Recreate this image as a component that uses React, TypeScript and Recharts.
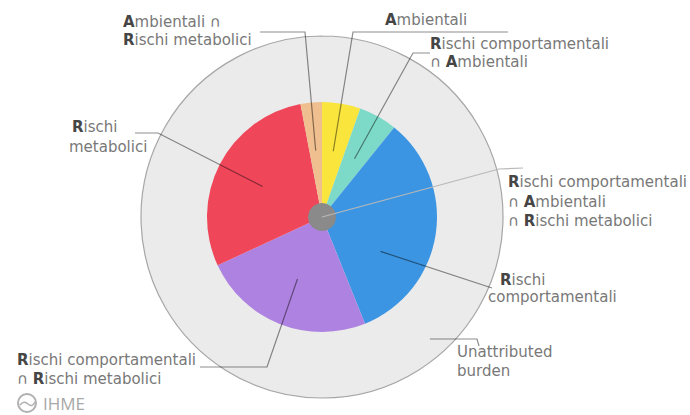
import { PieChart, Pie, Cell } from 'recharts';

// burden shares, clockwise from 12 o'clock
const categories = [
  'Ambientali',
  'Rischi comportamentali ∩ Ambientali',
  'Rischi comportamentali',
  'Rischi comportamentali ∩ Rischi metabolici',
  'Rischi metabolici',
  'Ambientali ∩ Rischi metabolici',
];
const shares = [5.4, 5.4, 33.1, 24.2, 28.9, 3.0];
const sliceColors = ['#f9e53c', '#7edac8', '#3c95e2', '#ae82e0', '#ef465a', '#efbf8f'];

const overlapName = 'Rischi comportamentali ∩ Ambientali ∩ Rischi metabolici';
const overlapShare = [1];
const unattributedName = 'Unattributed burden';
const unattributedShare = [100];

const CX = 322;
const CY = 217;
const PIE_R = 115;
const RING_R = 181;
const DOT_R = 14;
const RAD = Math.PI / 180;

const sliceData = categories.map((name, i) => ({ name, value: shares[i] }));
const dotData = overlapShare.map((value) => ({ name: overlapName, value }));
const ringData = unattributedShare.map((value) => ({ name: unattributedName, value }));

type LabelLayout = {
  shift: number; // degrees clockwise from the slice middle
  startR: number; // fraction of the sector radius
  points: [number, number][]; // offsets from the centre
  text: [number, number];
  lineH: number;
  indent?: number[];
  lines: string[]; // ^X marks a bold initial
  stroke?: string;
};

const LAYOUT: Record<string, LabelLayout> = {
  'Ambientali': {
    shift: 0, startR: 0.58, points: [[31, -185], [186, -185]],
    text: [63, -192], lineH: 18, lines: ['^Ambientali'],
  },
  'Rischi comportamentali ∩ Ambientali': {
    shift: 0, startR: 0.58, points: [[91, -164], [108, -164]],
    text: [108, -168], lineH: 18, lines: ['^Rischi comportamentali', '∩ ^Ambientali'],
  },
  'Rischi comportamentali': {
    shift: 22, startR: 0.59, points: [[170, 71]],
    text: [178, 68], lineH: 17, indent: [0, -12], lines: ['^Rischi', 'comportamentali'],
  },
  'Rischi comportamentali ∩ Rischi metabolici': {
    shift: 0, startR: 0.58, points: [[-55, 150], [-122, 150]],
    text: [-305, 148], lineH: 19, lines: ['^Rischi comportamentali', '∩ ^Rischi metabolici'],
  },
  'Rischi metabolici': {
    shift: 0, startR: 0.58, points: [[-164, -84], [-187, -84]],
    text: [-250, -85], lineH: 20, indent: [0, -3], lines: ['^Rischi', 'metabolici'],
  },
  'Ambientali ∩ Rischi metabolici': {
    shift: 0, startR: 0.58, points: [[-17, -185], [-62, -185]],
    text: [-199, -190], lineH: 18, lines: ['^Ambientali ∩', '^Rischi metabolici'],
  },
  [overlapName]: {
    shift: 0, startR: 0, points: [[177, -48], [201, -49]],
    text: [186, -30], lineH: 19.5, stroke: '#b8b8b8',
    lines: ['^Rischi comportamentali', '∩ ^Ambientali', '∩ ^Rischi metabolici'],
  },
  [unattributedName]: {
    shift: -41.5, startR: 0.9, points: [[155, 122], [157, 129]],
    text: [135, 140], lineH: 19, lines: ['Unattributed', 'burden'],
  },
};

function richLine(line: string) {
  const parts = line.split(/\^(.)/);
  return parts.map((p, i) =>
    i % 2 === 1
      ? <tspan key={i} fontWeight="bold" fill="#454545">{p}</tspan>
      : <tspan key={i}>{p}</tspan>
  );
}

function renderLabel(props: any) {
  const { cx, cy, midAngle, outerRadius, name } = props;
  const lay = LAYOUT[name];
  if (!lay) return null;
  const a = (midAngle - lay.shift) * RAD;
  const r = outerRadius * lay.startR;
  const pts = [[cx + r * Math.cos(a), cy - r * Math.sin(a)], ...lay.points.map(([dx, dy]) => [cx + dx, cy + dy])];
  return (
    <g>
      <polyline
        points={pts.map((p) => p.join(',')).join(' ')}
        fill="none"
        stroke={lay.stroke ?? '#000'}
        strokeOpacity={lay.stroke ? 1 : 0.45}
        strokeWidth={1.2}
      />
      <text fontFamily="DejaVu Sans" fontSize={15} fill="#787878">
        {lay.lines.map((ln, i) => (
          <tspan key={i} x={cx + lay.text[0] + (lay.indent?.[i] ?? 0)} y={cy + lay.text[1] + i * lay.lineH}>
            {richLine(ln)}
          </tspan>
        ))}
      </text>
    </g>
  );
}

// only the outer arc of the full ring gets a border, not the seam back to the centre
const ringArc = 2 * Math.PI * RING_R * (359.999 / 360);

export default function App() {
  return (
    <div style={{ position: 'absolute', left: 0, top: 0, width: 690, height: 415, background: '#fff' }}>
      <PieChart width={690} height={415} margin={{ top: 0, right: 0, bottom: 0, left: 0 }}>
        <Pie
          data={ringData} dataKey="value" nameKey="name" cx={CX} cy={CY}
          outerRadius={RING_R} startAngle={90} endAngle={-270}
          label={renderLabel} labelLine={false} isAnimationActive={false}
        >
          <Cell fill="#ebebeb" stroke="#a6a6a6" strokeWidth={1.2} strokeDasharray={`${ringArc} 2000`} />
        </Pie>
        <Pie
          data={sliceData} dataKey="value" nameKey="name" cx={CX} cy={CY}
          outerRadius={PIE_R} startAngle={90} endAngle={-270} stroke="none"
          label={renderLabel} labelLine={false} isAnimationActive={false}
        >
          {sliceData.map((d, i) => <Cell key={d.name} fill={sliceColors[i]} stroke="none" />)}
        </Pie>
        <Pie
          data={dotData} dataKey="value" nameKey="name" cx={CX} cy={CY}
          outerRadius={DOT_R} startAngle={90} endAngle={-270} stroke="none"
          label={renderLabel} labelLine={false} isAnimationActive={false}
        >
          <Cell fill="#8a8a8a" stroke="none" />
        </Pie>
      </PieChart>
      <svg width={100} height={22} style={{ position: 'absolute', left: 10, top: 392 }}>
        <circle cx={17} cy={11} r={9} fill="none" stroke="#b0b0b0" strokeWidth={2} />
        <path d="M10 13 Q14 8 18 12 T25 10" fill="none" stroke="#b0b0b0" strokeWidth={1.5} />
        <text x={33} y={18} fontFamily="Open Sans" fontSize={17} fill="#a8a8a8">IHME</text>
      </svg>
    </div>
  );
}
